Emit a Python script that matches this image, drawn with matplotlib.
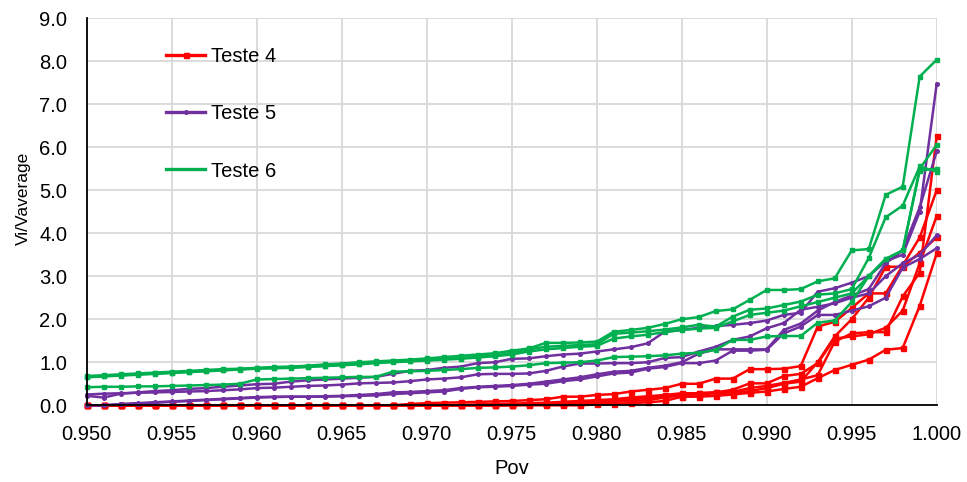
import numpy as np
import matplotlib
matplotlib.use("Agg")
import matplotlib.pyplot as plt
from matplotlib.lines import Line2D

plt.rcParams["font.family"] = ["Liberation Sans", "DejaVu Sans"]

# Pov grid, 0.950 .. 1.000 every 0.001
pov = np.round(np.linspace(0.950, 1.000, 51), 3)

# Teste 4 runs
t4_a = [0, 0, 0, 0, 0, 0, 0, 0, 0, 0, 0, 0, 0, 0, 0, 0, 0, 0, 0, 0.03,
        0.05, 0.06, 0.07, 0.08, 0.09, 0.10, 0.12, 0.14, 0.20, 0.20,
        0.24, 0.26, 0.32, 0.36, 0.40, 0.50, 0.50, 0.62, 0.62, 0.84,
        0.84, 0.85, 0.91, 1.83, 1.94, 2.26, 2.60, 2.60, 3.25, 3.90, 5.00]
t4_b = [0] * 20 + [0, 0, 0.01, 0.02, 0.03, 0.04, 0.05, 0.06, 0.08, 0.10,
                   0.12, 0.14, 0.18, 0.21, 0.24, 0.28, 0.28, 0.30, 0.31, 0.40,
                   0.45, 0.52, 0.60, 0.70, 1.48, 1.67, 1.70, 1.70, 2.53, 3.08, 6.25]
t4_c = [0] * 25 + [0, 0.02, 0.03, 0.04, 0.06, 0.08, 0.10, 0.14, 0.17, 0.20,
                   0.22, 0.28, 0.30, 0.36, 0.51, 0.51, 0.68, 0.73, 0.98, 1.55,
                   1.60, 1.65, 1.80, 2.20, 3.30, 4.40]
t4_d = [0] * 30 + [0.02, 0.03, 0.05, 0.07, 0.10, 0.20, 0.20, 0.22, 0.25, 0.29,
                   0.32, 0.38, 0.43, 0.63, 0.82, 0.94, 1.06, 1.29, 1.33, 2.31, 3.53]
t4_e = [0] * 25 + [0.01, 0.02, 0.03, 0.04, 0.05, 0.06, 0.08, 0.10, 0.12, 0.18,
                   0.25, 0.25, 0.28, 0.30, 0.33, 0.40, 0.50, 0.55, 1.00, 1.60,
                   2.00, 2.50, 3.22, 3.22, 3.55, 3.90]

# Teste 5 runs
t5_a = [0.22, 0.18, 0.27, 0.30, 0.33, 0.35, 0.38, 0.40, 0.43, 0.46,
        0.49, 0.50, 0.55, 0.58, 0.60, 0.62, 0.64, 0.66, 0.73, 0.80,
        0.82, 0.87, 0.90, 0.98, 1.00, 1.08, 1.09, 1.14, 1.18, 1.20,
        1.25, 1.30, 1.35, 1.44, 1.71, 1.75, 1.80, 1.84, 1.87, 1.91,
        1.97, 2.10, 2.15, 2.64, 2.72, 2.85, 3.00, 3.35, 3.50, 4.50, 7.47]
t5_b = [0.25, 0.27, 0.28, 0.29, 0.30, 0.31, 0.32, 0.33, 0.35, 0.37,
        0.40, 0.41, 0.43, 0.45, 0.46, 0.48, 0.51, 0.52, 0.53, 0.56,
        0.60, 0.62, 0.65, 0.72, 0.73, 0.73, 0.74, 0.80, 0.90, 0.97,
        0.97, 0.98, 0.98, 1.00, 1.10, 1.12, 1.25, 1.36, 1.52, 1.60,
        1.79, 1.91, 2.22, 2.29, 2.37, 2.50, 2.60, 3.00, 3.30, 3.50, 3.95]
t5_c = [0.00, 0.00, 0.03, 0.05, 0.07, 0.09, 0.11, 0.13, 0.15, 0.17,
        0.19, 0.20, 0.20, 0.20, 0.20, 0.21, 0.22, 0.23, 0.26, 0.28,
        0.30, 0.32, 0.38, 0.42, 0.43, 0.45, 0.48, 0.50, 0.56, 0.60,
        0.67, 0.74, 0.76, 0.85, 0.89, 0.98, 0.98, 1.04, 1.27, 1.27,
        1.29, 1.67, 1.83, 2.10, 2.10, 2.20, 2.30, 2.50, 3.20, 3.40, 3.65]
t5_d = [0.00, 0.00, 0.02, 0.04, 0.06, 0.08, 0.10, 0.12, 0.14, 0.16,
        0.18, 0.19, 0.20, 0.20, 0.21, 0.22, 0.24, 0.26, 0.30, 0.31,
        0.33, 0.35, 0.40, 0.43, 0.45, 0.47, 0.50, 0.55, 0.60, 0.65,
        0.72, 0.78, 0.80, 0.87, 0.92, 1.00, 1.20, 1.30, 1.30, 1.30,
        1.30, 1.75, 1.90, 2.20, 2.40, 2.55, 2.70, 3.30, 3.60, 4.60, 5.90]

# Teste 6 runs
t6_a = [0.68, 0.70, 0.72, 0.74, 0.76, 0.78, 0.80, 0.82, 0.84, 0.85,
        0.87, 0.89, 0.90, 0.92, 0.95, 0.97, 1.00, 1.02, 1.04, 1.06,
        1.09, 1.12, 1.15, 1.18, 1.21, 1.27, 1.32, 1.45, 1.45, 1.46,
        1.48, 1.71, 1.75, 1.80, 1.89, 2.00, 2.05, 2.19, 2.23, 2.45,
        2.68, 2.68, 2.70, 2.88, 2.95, 3.60, 3.63, 4.89, 5.08, 7.64, 8.03]
t6_b = [0.66, 0.68, 0.70, 0.72, 0.74, 0.76, 0.78, 0.80, 0.82, 0.84,
        0.86, 0.87, 0.88, 0.90, 0.92, 0.94, 0.97, 1.00, 1.02, 1.04,
        1.06, 1.08, 1.10, 1.13, 1.16, 1.22, 1.30, 1.36, 1.38, 1.40,
        1.42, 1.66, 1.69, 1.72, 1.76, 1.81, 1.87, 1.83, 2.06, 2.22,
        2.25, 2.33, 2.41, 2.57, 2.60, 2.70, 3.42, 4.37, 4.64, 5.55, 5.43]
t6_c = [0.42, 0.43, 0.43, 0.44, 0.44, 0.45, 0.46, 0.47, 0.48, 0.50,
        0.60, 0.61, 0.62, 0.63, 0.64, 0.65, 0.66, 0.66, 0.78, 0.79,
        0.80, 0.82, 0.84, 0.87, 0.88, 0.90, 0.93, 0.98, 0.99, 1.00,
        1.04, 1.12, 1.13, 1.14, 1.16, 1.20, 1.22, 1.29, 1.52, 1.52,
        1.60, 1.61, 1.61, 1.92, 1.97, 2.40, 3.00, 3.40, 3.60, 5.50, 6.05]
t6_d = [0.65, 0.67, 0.69, 0.71, 0.73, 0.75, 0.77, 0.79, 0.81, 0.83,
        0.85, 0.86, 0.87, 0.89, 0.91, 0.93, 0.95, 0.98, 1.00, 1.02,
        1.04, 1.06, 1.08, 1.11, 1.14, 1.18, 1.25, 1.30, 1.33, 1.36,
        1.38, 1.55, 1.60, 1.64, 1.70, 1.75, 1.78, 1.80, 1.95, 2.10,
        2.15, 2.20, 2.30, 2.40, 2.50, 2.60, 3.00, 3.40, 3.60, 5.45, 5.50]

series = [
    ("Teste 4", "#FF0000", "s", 3.6, "s", [t4_a, t4_b, t4_c, t4_d, t4_e]),
    ("Teste 5", "#7030A0", "o", 2.6, "o", [t5_a, t5_b, t5_c, t5_d]),
    ("Teste 6", "#00B050", "s", 2.8, None, [t6_a, t6_b, t6_c, t6_d]),
]

fig = plt.figure(figsize=(9.67, 4.82), dpi=100)
ax = fig.add_axes([86.7 / 967, 76.7 / 482, 850 / 967, 387.3 / 482])

handles = []
for name, color, marker, ms, leg_marker, runs in series:
    for run in runs:
        ax.plot(pov, run, color=color, lw=1.8, marker=marker, ms=ms,
                clip_on=False)
    handles.append(Line2D([], [], color=color, lw=2.4, marker=leg_marker,
                          ms=ms, label=name))

ax.set_xlim(0.950, 1.000)
ax.set_ylim(0, 9)
ax.set_xticks(np.round(np.arange(0.950, 1.0001, 0.005), 3))
ax.set_yticks(np.arange(0, 9.1, 1.0))
ax.xaxis.set_major_formatter(matplotlib.ticker.FormatStrFormatter("%.3f"))
ax.yaxis.set_major_formatter(matplotlib.ticker.FormatStrFormatter("%.1f"))
ax.grid(True, color="#D9D9D9", lw=1.3)
ax.set_axisbelow(True)
for s in ("top", "right"):
    ax.spines[s].set_visible(False)
ax.spines["left"].set_color("black")
ax.spines["bottom"].set_color("black")
ax.spines["left"].set_linewidth(1.3)
ax.spines["bottom"].set_linewidth(1.3)
ax.tick_params(length=0, labelsize=14.5, colors="#000000")
ax.tick_params(axis="y", pad=14)
ax.tick_params(axis="x", pad=14)

ax.set_xlabel("Pov", fontsize=14.5, labelpad=11)
ax.set_ylabel("Vi/Vaverage", fontsize=12.5)
ax.yaxis.set_label_coords(-0.066, 0.533)

fig.legend(handles=handles, loc="upper left",
           bbox_to_anchor=(166 / 967, (482 - 47) / 482),
           frameon=False, fontsize=14.5, handlelength=1.95,
           handletextpad=0.3, labelspacing=1.9, borderpad=0,
           borderaxespad=0)

fig.savefig("out.png", dpi=100)
